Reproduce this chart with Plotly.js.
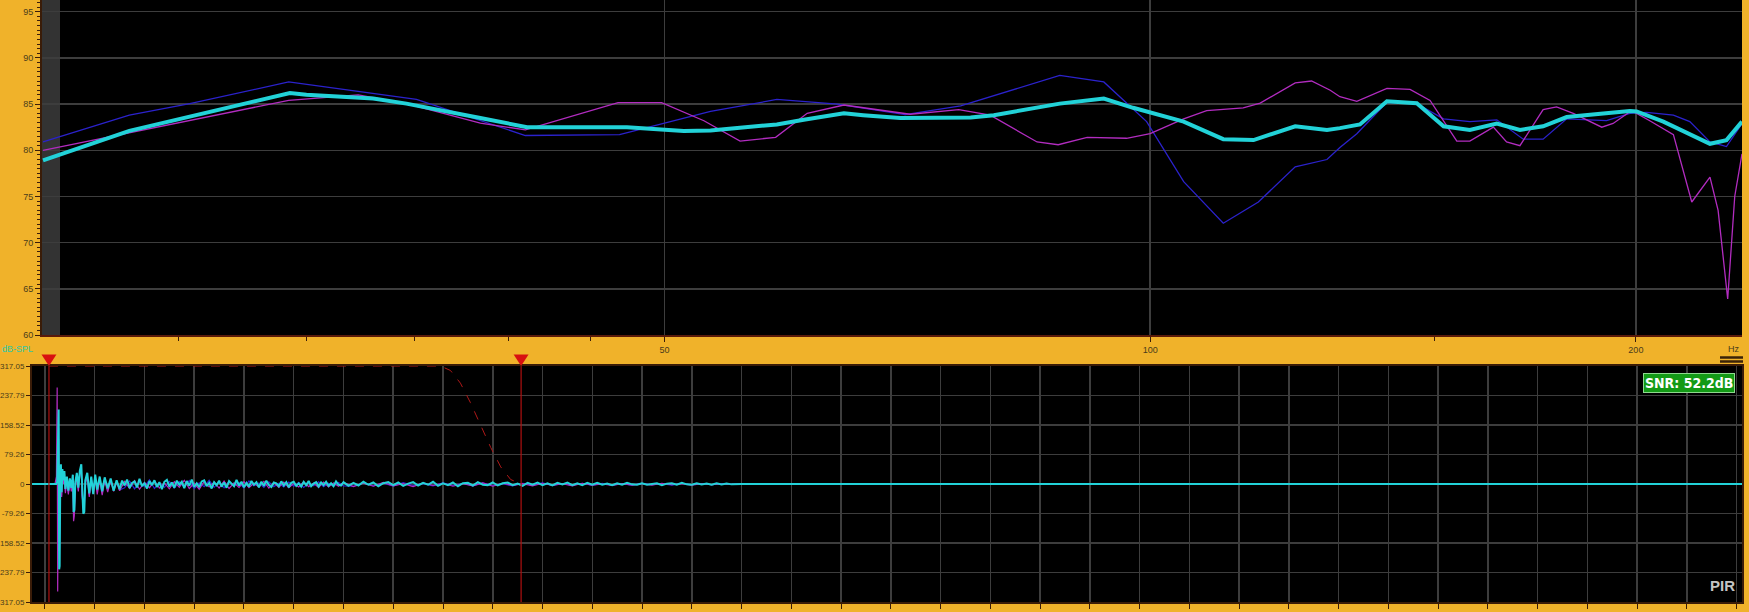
<!DOCTYPE html>
<html>
<head>
<meta charset="utf-8">
<script src="https://cdn.plot.ly/plotly-3.0.1.min.js"></script>
<style>html,body{margin:0;padding:0;background:#F0B22A;}#chart{width:1749px;height:612px;}</style>
</head>
<body>
<div id="chart"></div>
<script>
// ---------- Frequency response (top panel) ----------
const blueFreq = [20.6, 23.3, 25.4, 29.25, 35.1, 38.45, 41.0, 46.9, 53.4, 58.7, 64.0, 70.5, 76.3, 87.9, 93.6, 99.5, 104.9, 111.0, 116.7, 123.0, 128.7, 131.1, 134.3, 140.2, 146.3, 152.0, 157.8, 164.0, 170.3, 175.2, 181.2, 191.8, 198.3, 203.1, 211.0, 216.0, 222.3, 227.6, 232.7];
const blueDb   = [80.9, 83.8, 85.05, 87.4, 85.5, 83.2, 81.6, 81.7, 84.2, 85.5, 85.0, 83.85, 84.8, 88.1, 87.4, 83.1, 76.6, 72.1, 74.4, 78.2, 79.0, 80.3, 81.8, 85.2, 85.05, 83.4, 83.1, 83.3, 81.2, 81.2, 83.4, 83.2, 84.0, 84.1, 83.8, 83.1, 80.9, 80.4, 82.9];

const magFreq = [20.6, 23.3, 29.25, 32.3, 34.6, 38.45, 41.0, 46.8, 49.8, 52.9, 55.7, 58.6, 61.3, 64.6, 71.0, 76.1, 79.6, 85.1, 87.7, 91.4, 96.7, 100.0, 104.9, 108.4, 114.2, 117.0, 123.0, 125.9, 129.3, 131.1, 134.3, 140.2, 144.9, 149.1, 154.9, 157.8, 163.2, 166.3, 169.5, 175.2, 178.6, 182.9, 190.5, 193.6, 198.8, 204.0, 211.0, 216.6, 222.3, 224.9, 228.0, 230.3, 232.7];
const magDb   = [80.0, 81.9, 85.4, 86.0, 85.05, 82.95, 82.2, 85.15, 85.15, 83.2, 81.0, 81.4, 84.0, 84.9, 83.9, 84.4, 83.8, 80.9, 80.6, 81.4, 81.3, 81.8, 83.4, 84.3, 84.6, 85.1, 87.3, 87.5, 86.5, 85.8, 85.3, 86.7, 86.6, 85.4, 81.0, 81.0, 82.5, 80.9, 80.5, 84.4, 84.7, 84.0, 82.5, 82.9, 84.3, 83.2, 81.7, 74.4, 77.1, 73.5, 63.9, 75.0, 79.6];

const cyanFreq = [20.6, 23.3, 29.3, 30.0, 33.0, 34.6, 38.45, 41.1, 47.4, 49.0, 51.4, 53.4, 56.3, 58.7, 61.0, 64.6, 66.4, 70.0, 77.4, 80.0, 87.9, 93.6, 97.6, 104.9, 111.0, 115.9, 123.0, 128.7, 131.1, 134.9, 140.2, 146.3, 152.0, 157.8, 164.0, 169.5, 175.2, 181.2, 190.9, 198.3, 200.2, 208.0, 222.3, 227.6, 232.7];
const cyanDb   = [78.9, 82.1, 86.2, 86.0, 85.6, 85.05, 83.5, 82.5, 82.5, 82.3, 82.1, 82.15, 82.5, 82.8, 83.3, 84.0, 83.8, 83.5, 83.55, 83.8, 85.05, 85.6, 84.6, 83.1, 81.2, 81.1, 82.6, 82.2, 82.4, 82.8, 85.3, 85.1, 82.6, 82.2, 82.9, 82.2, 82.6, 83.6, 83.97, 84.25, 84.2, 83.1, 80.7, 81.1, 83.1];

const freqTickVals = [50, 100, 200];
const freqTickText = ['50', '100', '200'];
const freqMinorTicks = [25, 30, 35, 40, 45, 150];
const splTickVals = [60, 65, 70, 75, 80, 85, 90, 95];

// ---------- Impulse response (bottom panel), time in ms ----------
// early part (main arrival)
const irTime = [
  -2.6, 2.0, 2.3, 2.45, 2.55, 2.65, 2.75, 2.85, 2.95, 3.05,
  3.2, 3.35, 3.5, 3.7, 3.9, 4.1, 4.4, 4.7, 5.0, 5.3,
  5.6, 5.75, 5.9, 6.1, 6.4, 6.7, 7.0, 7.3, 7.45, 7.7,
  7.9, 8.1, 8.5, 8.9, 9.3, 9.7, 10.1, 10.5, 11.0, 11.5,
  12.0, 12.6, 13.2, 13.8, 14.4, 15.0
];
const irCyan = [
  0, 0, 0, 5, 60, 130, 200, -229, -220, -30,
  53, -22, 40, 10, 35, -13, 20, -18, 15, -10,
  25, -75, -70, 5, 30, -10, 35, 53, -20, -80,
  -75, 10, 30, -25, 20, -27, 25, -15, 20, -20,
  18, -12, 15, -18, 10, -14
];
const irBlue = [
  0, 0, 5, 60, 129, 90, 150, -200, -150, -20,
  40, -30, 30, 15, 25, -20, 15, -25, 10, -15,
  20, -65, -60, 0, 25, -15, 30, 45, -25, -70,
  -60, 5, 25, -30, 15, -22, 20, -20, 15, -25,
  14, -16, 12, -14, 8, -16
];
const irMagenta = [
  0, 0, 20, 259, -289, -150, 120, -180, -100, 10,
  45, -35, 35, 0, 30, -25, 12, -28, 8, -20,
  15, -100, -85, -10, 20, -20, 25, 40, -30, -60,
  -50, 0, 18, -35, 10, -25, 15, -28, 10, -30,
  10, -22, 8, -20, 5, -18
];
// decaying noise tail
const noiseTime = [
  15.5, 16, 16.5, 17, 17.5, 18, 18.5, 19, 19.5, 20,
  20.5, 21, 21.5, 22, 22.5, 23, 23.5, 24, 24.5, 25,
  25.5, 26, 26.5, 27, 27.5, 28, 28.5, 29, 29.5, 30,
  30.5, 31, 31.5, 32, 32.5, 33, 33.5, 34, 34.5, 35,
  35.5, 36, 36.5, 37, 37.5, 38, 38.5, 39, 39.5, 40,
  40.5, 41, 41.5, 42, 42.5, 43, 43.5, 44, 44.5, 45,
  45.5, 46, 46.5, 47, 47.5, 48, 48.5, 49, 49.5, 50,
  50.5, 51, 51.5, 52, 52.5, 53, 53.5, 54, 54.5, 55,
  55.5, 56, 56.5, 57, 57.5, 58, 58.5, 59, 59.5, 60,
  61, 62, 63, 64, 65, 66, 67, 68, 69, 70,
  71, 72, 73, 74, 75, 76, 77, 78, 79, 80,
  81, 82, 83, 84, 85, 86, 87, 88, 89, 90,
  91, 92, 93, 94, 95, 96, 97, 98, 99, 100,
  101, 102, 103, 104, 105, 106, 107, 108, 109, 110,
  111, 112, 113, 114, 115, 116, 117, 118, 119, 120,
  121, 122, 123, 124, 125, 126, 127, 128, 129, 130,
  131, 132, 133, 134, 135, 136, 137, 138
];
const noiseCyan = [
  9, -4, 12, -11, 3, 7, -9, 14, -6, 2,
  -12, 8, -3, 10, -8, 5, -14, 6, 11, -7,
  4, -10, 9, -2, 6, -11, 8, -5, 12, -8,
  2, -9, 7, 10, -6, 3, -12, 5, -3, 9,
  -7, 4, -10, 8, 1, -6, 11, -4, 6, -9,
  3, -7, 8, -2, 5, -9, 6, -5, 9, -3,
  -8, 4, 2, -6, 7, -4, 5, -9, 3, 6,
  -5, 2, -7, 6, -3, 8, -6, 1, 5, -7,
  4, -3, 6, -5, 2, -6, 7, -2, -4, 5,
  -5, 3, -4, 6, -2, 4, -6, 2, 5, -3,
  4, -5, 1, 5, -4, 3, -2, 6, -5, 2,
  -3, 4, -6, 2, 3, -4, 5, -2, -3, 4,
  -4, 2, 4, -3, 1, -5, 3, -2, 4, -3,
  2, -4, 3, -1, 4, -3, 2, -3, 3, -2,
  3, -2, 1, -3, 2, -2, 3, -1, -2, 2,
  -2, 1, 2, -3, 1, 2, -2, 3, -1, -2,
  2, -1, 1, -2, 2, -1, 1, -1
];
const noiseTimeBM = [
  16, 17, 18, 19, 20, 21, 22, 23, 24, 25,
  26, 27, 28, 29, 30, 31, 32, 33, 34, 35,
  36, 37, 38, 39, 40, 41, 42, 43, 44, 45,
  46, 47, 48, 49, 50, 51, 52, 53, 54, 55,
  56, 57, 58, 59, 60,
  62, 64, 66, 68, 70, 72, 74, 76, 78, 80,
  82, 84, 86, 88, 90, 92, 94, 96, 98, 100,
  102, 104, 106, 108, 110, 112, 114, 116, 118, 120,
  122, 124, 126, 128, 130, 132, 134, 136, 138
];
const noiseBlue = [
  -10, 8, -13, 5, -7, 11, -12, 4, -9, 7,
  -11, 6, -8, 9, -13, 3, -7, 10, -9, 5,
  -10, 7, -6, 4, -11, 8, -5, 3, -9, 6,
  -7, 2, -8, 5, -6, 4, -9, 3, -5, 6,
  -7, 2, -6, 4, -5,
  -6, 3, -5, 2, -6, 4, -4, 1, -5, 3,
  -4, 2, -5, 3, -4, 1, -5, 2, -3, 3,
  -4, 1, -3, 2, -4, 2, -3, 1, -3, 2,
  -2, 1, -3, 2, -2, 1, -2, 1, -1
];
const noiseMagenta = [
  7, -12, 9, -14, 4, -10, 8, -11, 3, -13,
  6, -9, 10, -12, 2, -14, 7, -8, 5, -11,
  8, -12, 3, -9, 6, -10, 2, -8, 7, -11,
  4, -9, 5, -10, 1, -8, 6, -7, 2, -9,
  5, -8, 3, -6, 4,
  -7, 2, -6, 4, -5, 1, -7, 3, -4, 2,
  -6, 1, -5, 3, -6, 2, -4, 1, -5, 2,
  -4, 1, -5, 2, -3, 0, -4, 1, -3, 1,
  -3, 2, -2, 1, -3, 1, -2, 0, -1
];
const tailTime = [140, 341.1];
const tailVal = [0, 0];

const windowTime = [0.8, 79.5, 81.5, 83.5, 85.5, 87.6, 89.6, 91.6, 93.6, 95.7];
const windowVal  = [317.05, 317.05, 305, 271, 219, 158.5, 98, 46, 12, 0];
const markerTime = [0.8, 95.7];
const irTickVals = [-317.05, -237.79, -158.52, -79.26, 0, 79.26, 158.52, 237.79, 317.05];
const irTickText = ['-317.05', '-237.79', '-158.52', '-79.26', '0', '79.26', '158.52', '237.79', '317.05'];
const snrText = 'SNR: 52.2dB';

// ---------- styling ----------
const ORANGE = '#F0B22A';
const GRID = '#3d3d3d';
const AXIS = '#3a1c08';
const LABEL = '#4a3c1a';
const BLUE = '#2B22CC';
const MAG = '#B22CC0';
const CYAN = '#22D2D8';
const tickFont = {family: 'Liberation Sans, Arial, sans-serif', size: 9, color: LABEL};
const tickFontSmall = {family: 'Liberation Sans, Arial, sans-serif', size: 8, color: LABEL};

const traces = [
  {x: blueFreq, y: blueDb, xaxis: 'x', yaxis: 'y', type: 'scatter', mode: 'lines', line: {color: BLUE, width: 1.3}, hoverinfo: 'skip'},
  {x: magFreq, y: magDb, xaxis: 'x', yaxis: 'y', type: 'scatter', mode: 'lines', line: {color: MAG, width: 1.3}, hoverinfo: 'skip'},
  {x: cyanFreq, y: cyanDb, xaxis: 'x', yaxis: 'y', type: 'scatter', mode: 'lines', line: {color: CYAN, width: 4}, hoverinfo: 'skip'},

  {x: irTime.concat(noiseTimeBM, tailTime), y: irBlue.concat(noiseBlue, tailVal), xaxis: 'x2', yaxis: 'y2', type: 'scatter', mode: 'lines', line: {color: BLUE, width: 1.2}, hoverinfo: 'skip'},
  {x: irTime.concat(noiseTimeBM, tailTime), y: irMagenta.concat(noiseMagenta, tailVal), xaxis: 'x2', yaxis: 'y2', type: 'scatter', mode: 'lines', line: {color: MAG, width: 1.2}, hoverinfo: 'skip'},
  {x: irTime.concat(noiseTime, tailTime), y: irCyan.concat(noiseCyan, tailVal), xaxis: 'x2', yaxis: 'y2', type: 'scatter', mode: 'lines', line: {color: CYAN, width: 2}, hoverinfo: 'skip'},
  {x: windowTime, y: windowVal, xaxis: 'x2', yaxis: 'y2', type: 'scatter', mode: 'lines', line: {color: '#B01818', width: 1, dash: 'dash'}, cliponaxis: false, hoverinfo: 'skip'}
];

const W = 1710, H = 602, L = 32; // plot area size / left margin
const px = v => (v - L) / W;
const py = v => (H - v) / H;

const triangle = t => ({
  type: 'path', xref: 'x2', yref: 'paper',
  path: `M ${t - 1.5},${py(354.5)} L ${t + 1.5},${py(354.5)} L ${t},${py(366)} Z`,
  fillcolor: '#D81010', line: {width: 0}
});

const layout = {
  width: 1749, height: 612,
  paper_bgcolor: ORANGE, plot_bgcolor: '#000000',
  margin: {l: 32, r: 7, t: 0, b: 10, pad: 0},
  showlegend: false,
  font: {family: 'Liberation Sans, Arial, sans-serif', size: 9, color: LABEL},
  xaxis: {
    type: 'log', anchor: 'y', domain: [px(42), 1],
    range: [Math.log10(20.57), Math.log10(232.7)],
    tickmode: 'array', tickvals: freqTickVals, ticktext: freqTickText,
    ticks: 'outside', ticklen: 5, tickcolor: AXIS, tickwidth: 1,
    showgrid: true, gridcolor: GRID, gridwidth: 1.5,
    showline: true, linecolor: '#5a1a0a', linewidth: 2,
    zeroline: false, tickfont: tickFont,
    minor: {tickmode: 'array', tickvals: freqMinorTicks, ticks: 'outside', ticklen: 4, tickcolor: AXIS, showgrid: false}
  },
  yaxis: {
    anchor: 'x', domain: [py(335), 1],
    range: [60, 96.27],
    tickmode: 'array', tickvals: splTickVals,
    ticks: 'outside', ticklen: 5, tickcolor: AXIS, tickwidth: 1,
    showgrid: true, gridcolor: GRID, gridwidth: 1.5,
    showline: true, linecolor: AXIS, linewidth: 2,
    zeroline: false, tickfont: tickFont,
    minor: {dtick: 0.5, ticks: 'outside', ticklen: 3, tickcolor: AXIS, showgrid: false}
  },
  xaxis2: {
    anchor: 'y2', domain: [0, 1],
    range: [-2.61, 341.1],
    tick0: 0, dtick: 10, showticklabels: false,
    ticks: 'outside', ticklen: 5, tickcolor: AXIS,
    showgrid: true, gridcolor: GRID, gridwidth: 1.5,
    showline: true, linecolor: AXIS, linewidth: 2, mirror: true,
    zeroline: false
  },
  yaxis2: {
    anchor: 'x2', domain: [0, py(366)],
    range: [-317.05, 317.05],
    tickmode: 'array', tickvals: irTickVals, ticktext: irTickText,
    ticks: 'outside', ticklen: 4, tickcolor: AXIS,
    showgrid: true, gridcolor: GRID, gridwidth: 1.5,
    showline: true, linecolor: AXIS, linewidth: 2, mirror: true,
    zeroline: false, tickfont: tickFontSmall
  },
  shapes: [
    {type: 'rect', xref: 'x domain', yref: 'y domain', x0: 0, x1: 18 / 1700, y0: 0, y1: 1, fillcolor: '#333333', line: {width: 0}, layer: 'below'},
    {type: 'line', xref: 'x2', yref: 'y2 domain', x0: markerTime[0], x1: markerTime[0], y0: 0, y1: 1, line: {color: '#B01010', width: 1.2}},
    {type: 'line', xref: 'x2', yref: 'y2 domain', x0: markerTime[1], x1: markerTime[1], y0: 0, y1: 1, line: {color: '#B01010', width: 1.2}},
    triangle(markerTime[0]),
    triangle(markerTime[1]),
    {type: 'line', xref: 'paper', yref: 'paper', x0: px(1720), x1: px(1743), y0: py(357.5), y1: py(357.5), line: {color: '#3a2208', width: 2.5}},
    {type: 'line', xref: 'paper', yref: 'paper', x0: px(1720), x1: px(1743), y0: py(361.5), y1: py(361.5), line: {color: '#3a2208', width: 2.5}}
  ],
  annotations: [
    {xref: 'paper', yref: 'paper', x: px(1742), y: py(348.5), xanchor: 'right', yanchor: 'middle', text: 'Hz', showarrow: false, font: {size: 9, color: LABEL}},
    {xref: 'paper', yref: 'paper', x: px(0), y: py(348.5), xanchor: 'left', yanchor: 'middle', text: 'dB-SPL', showarrow: false, font: {size: 9, color: '#2FC8A6'}},
    {xref: 'paper', yref: 'paper', x: px(1735), y: py(372.5), xanchor: 'right', yanchor: 'top', text: '<b>' + snrText + '</b>', showarrow: false,
     font: {family: 'Liberation Sans Narrow, DejaVu Sans Condensed, Liberation Sans, Arial', size: 14, color: '#FFFFFF'},
     bgcolor: '#139A16', bordercolor: '#8FD88F', borderwidth: 1, borderpad: 1},
    {xref: 'paper', yref: 'paper', x: px(1737), y: py(596), xanchor: 'right', yanchor: 'bottom', text: '<b>PIR</b>', showarrow: false,
     font: {family: 'Liberation Sans, Arial', size: 15, color: '#C4C4C4'}}
  ]
};

Plotly.newPlot('chart', traces, layout, {staticPlot: true, displayModeBar: false});
</script>
</body>
</html>
